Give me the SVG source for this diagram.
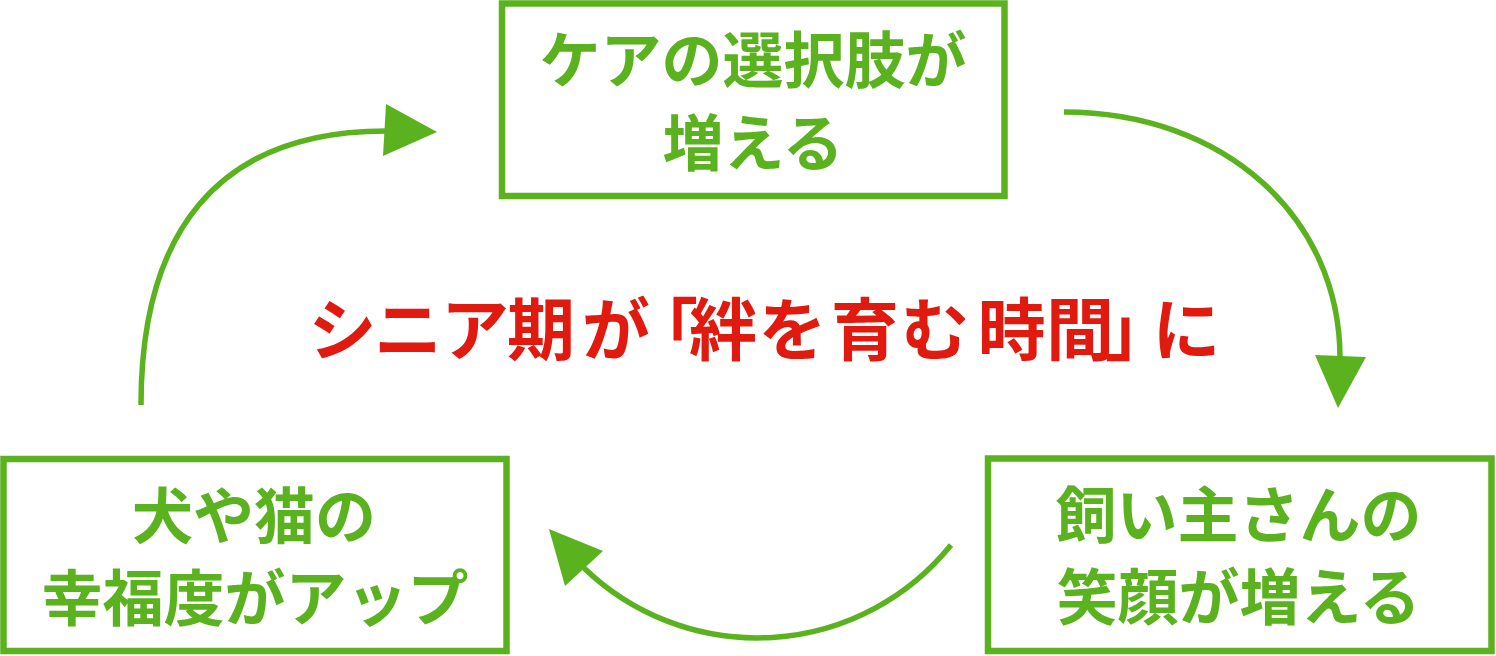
<svg xmlns="http://www.w3.org/2000/svg" width="1496" height="656" viewBox="0 0 1496 656">
<style>
.box{fill:#fff;stroke:#5AB31E;stroke-width:6.5}
.lbl{font-family:"Noto Sans CJK JP","Noto Sans CJK SC",sans-serif;font-weight:700;font-size:61px;fill:#5AB31E;text-anchor:middle}
.conn{fill:none;stroke:#5AB31E;stroke-width:5.5}
.head{fill:#5AB31E}
.title{font-family:"Noto Sans CJK JP","Noto Sans CJK SC",sans-serif;font-weight:700;font-size:68px;fill:#E01A0F;text-anchor:start;text-spacing-trim:space-all}
</style>
<rect width="1496" height="656" fill="#fff"/>
<g id="connectors">
<path class="conn" d="M141,405 C141,235 215,131 386,131"/>
<polygon class="head" points="386,104 383,156 437,132"/>
<path class="conn" d="M1064,112 C1224,112 1340,217 1340,358"/>
<polygon class="head" points="1315,355 1366,357 1338,408"/>
<path class="conn" d="M951,545 A249,249 0 0 1 584,568"/>
<polygon class="head" points="549,529 603,551 565,586"/>
</g>
<g id="node-top">
<rect class="box" x="502" y="3.5" width="502.5" height="192.5"/>
<text class="lbl" x="753" y="83">ケアの選択肢が</text>
<text class="lbl" x="753" y="166">増える</text>
</g>
<g id="node-right">
<rect class="box" x="988" y="458.5" width="503.5" height="192.5"/>
<text class="lbl" x="1238.5" y="537.5">飼い主さんの</text>
<text class="lbl" x="1238.5" y="620">笑顔が増える</text>
</g>
<g id="node-left">
<rect class="box" x="3.5" y="459" width="503" height="192"/>
<text class="lbl" x="254" y="538.5">犬や猫の</text>
<text class="lbl" x="255" y="620.5">幸福度がアップ</text>
</g>
<g id="center-title">
<text class="title" x="308.5 374 441 507 582 630 689 758.5 831 901 977.7 1046 1105 1152.5" y="355">シニア期が「絆を育む時間」に</text>
</g>
</svg>
